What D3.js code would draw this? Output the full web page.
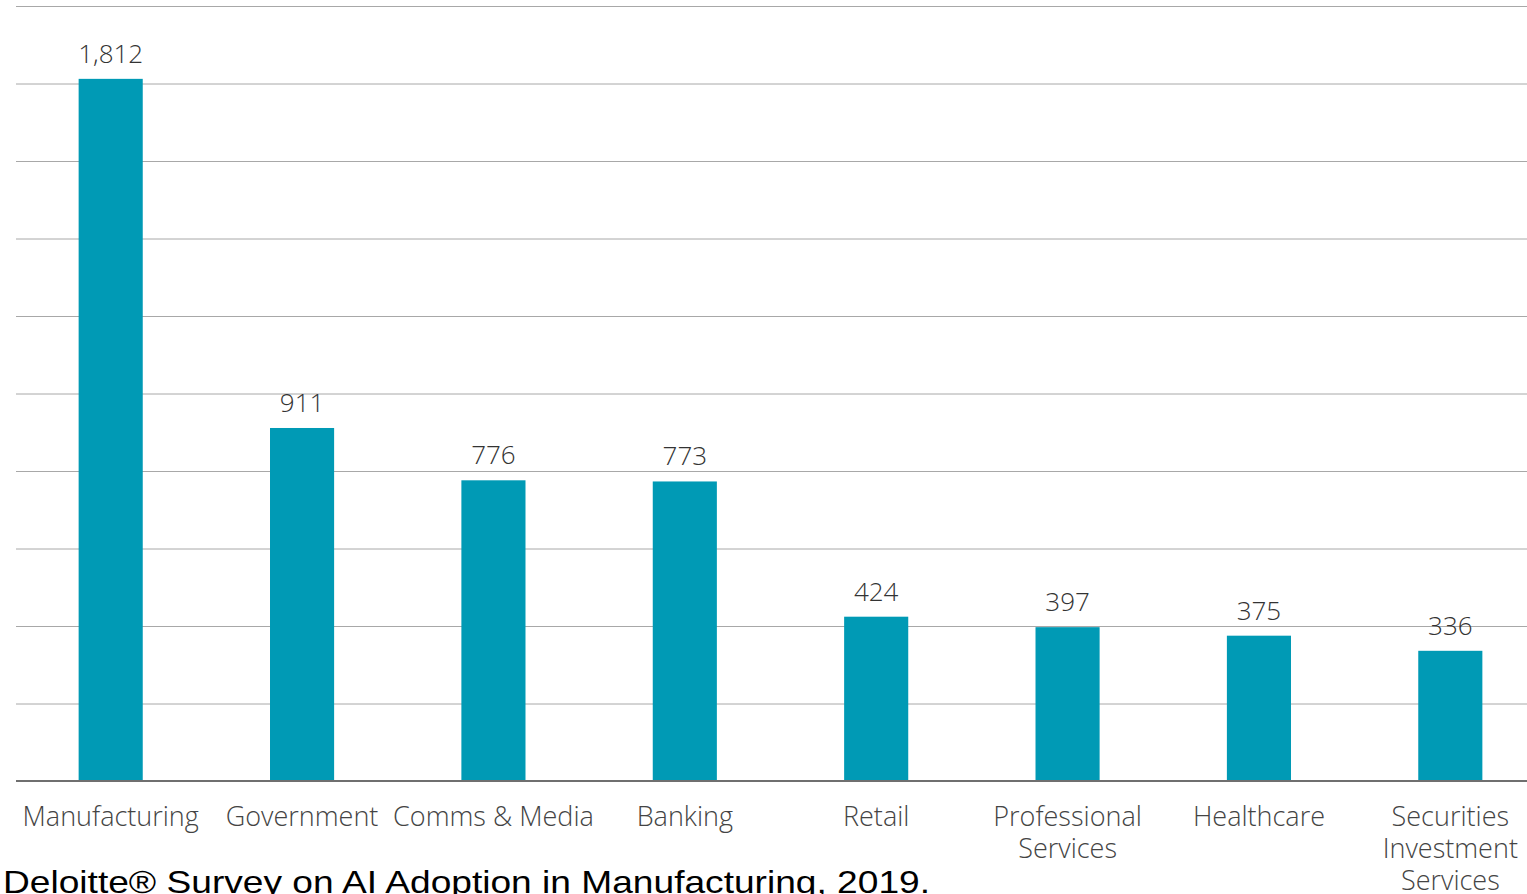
<!DOCTYPE html>
<html>
<head>
<meta charset="utf-8">
<script src="https://cdn.jsdelivr.net/npm/d3@7"></script>
<style>
  html, body { margin: 0; padding: 0; background: #fff; overflow: hidden; }
</style>
</head>
<body>
<div id="chart"></div>
<script>
// data
const categories = ["Manufacturing", "Government", "Comms & Media", "Banking",
                    "Retail", "Professional Services", "Healthcare", "Securities Investment Services"];
const values = [1812, 911, 776, 773, 424, 397, 375, 336];
const yTicks = [200, 400, 600, 800, 1000, 1200, 1400, 1600, 1800, 2000];
const sourceNote = "Deloitte\u00AE Survey on AI Adoption in Manufacturing, 2019.";

(function() {
  const width = 1527, height = 894;
  const baseY = 781;

  const svg = d3.select("#chart")
    .append("svg")
    .attr("width", width)
    .attr("height", height);

  const x = d3.scaleBand()
    .domain(categories)
    .range([15, 1546])
    .paddingInner(0.665)
    .paddingOuter(0.3325);

  const y = d3.scaleLinear()
    .domain([0, 2000])
    .range([baseY, 6]);

  // gridlines
  svg.append("g")
    .attr("transform", "translate(16,0)")
    .call(d3.axisLeft(y).tickValues(yTicks).tickSize(-(width - 16)).tickFormat(""))
    .call(g => g.select(".domain").remove())
    .selectAll("line")
    .attr("stroke", "#a8a8a8")
    .attr("stroke-width", 1);

  // bars
  svg.selectAll("rect.bar")
    .data(values)
    .enter().append("rect")
    .attr("class", "bar")
    .attr("x", (d, i) => x(categories[i]))
    .attr("y", d => y(d))
    .attr("width", x.bandwidth())
    .attr("height", d => baseY - y(d))
    .attr("fill", "#009ab5");

  // baseline
  svg.append("line")
    .attr("x1", 16).attr("x2", width)
    .attr("y1", baseY).attr("y2", baseY)
    .attr("stroke", "#6f6f6f")
    .attr("stroke-width", 2);

  // value labels
  svg.selectAll("text.val")
    .data(values)
    .enter().append("text")
    .attr("class", "val")
    .attr("x", (d, i) => x(categories[i]) + x.bandwidth() / 2)
    .attr("y", d => y(d) - 16)
    .attr("text-anchor", "middle")
    .attr("font-family", "'Open Sans', sans-serif")
    .attr("font-weight", 300)
    .attr("font-size", 26)
    .attr("fill", "#333")
    .text(d => d3.format(",")(d));

  // category labels, wrapped like the original
  const wrapped = {
    "Professional Services": ["Professional", "Services"],
    "Securities Investment Services": ["Securities", "Investment", "Services"]
  };
  const catText = svg.selectAll("text.cat")
    .data(categories)
    .enter().append("text")
    .attr("class", "cat")
    .attr("x", d => x(d) + x.bandwidth() / 2)
    .attr("y", 826)
    .attr("text-anchor", "middle")
    .attr("font-family", "'Open Sans', sans-serif")
    .attr("font-weight", 300)
    .attr("font-size", 27)
    .attr("fill", "#444");
  catText.each(function(d) {
    const lines = wrapped[d] || [d];
    d3.select(this).selectAll("tspan")
      .data(lines)
      .enter().append("tspan")
      .attr("x", x(d) + x.bandwidth() / 2)
      .attr("dy", (l, i) => i === 0 ? 0 : 32)
      .text(l => l);
  });

  // source note (stretched wide in the original)
  svg.append("text")
    .attr("x", 3)
    .attr("y", 893)
    .attr("font-family", "Arial, 'Liberation Sans', sans-serif")
    .attr("font-size", 32)
    .attr("fill", "#000")
    .attr("textLength", 927)
    .attr("lengthAdjust", "spacingAndGlyphs")
    .text(sourceNote);
})();
</script>
</body>
</html>
